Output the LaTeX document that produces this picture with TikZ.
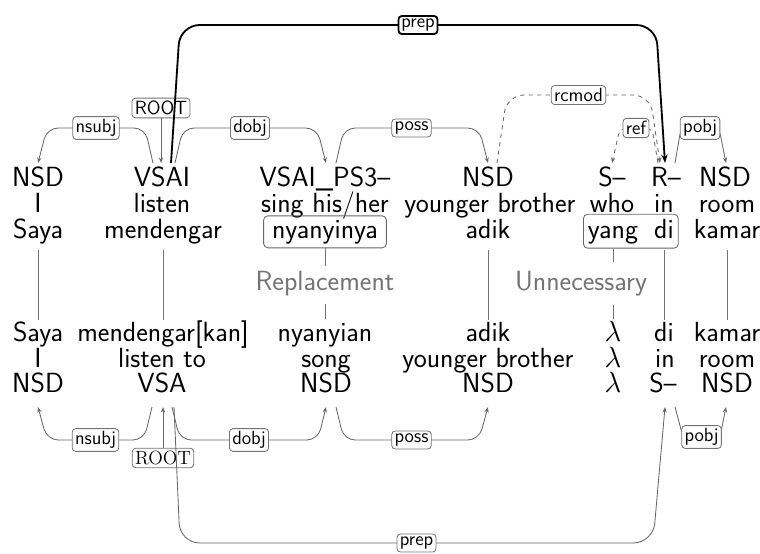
\documentclass[tikz,border=0pt]{standalone}
\usepackage{tikz}
\usetikzlibrary{positioning}
\usetikzlibrary{arrows.meta}
\usetikzlibrary{calc,fit}
\newcommand{\wordfont}{\sffamily\fontsize{19.7}{23}\selectfont}
\newcommand{\labfont}{\sffamily\fontsize{13.6}{16}\selectfont}
\tikzset{word/.style={anchor=base,inner sep=0pt,font=\wordfont},
  note/.style={word,text=black!55},
  lab/.style={draw=black!55,fill=white,solid,rounded corners=2.5pt,inner sep=2pt,line width=0.6pt,font=\labfont},
  biglab/.style={lab,draw=black,line width=1.3pt},
  dep/.style={draw=black!60,line width=0.6pt,rounded corners=8pt,-{Stealth[length=4pt,width=3pt]}},
  bigdep/.style={draw=black,line width=1.3pt,rounded corners=14pt,-{Stealth[length=6pt,width=4.5pt]}},
  link/.style={draw=black!55,line width=0.6pt},
  wbox/.style={draw=black!60,line width=0.6pt,rounded corners=3pt},}

\begin{document}
\begin{tikzpicture}[x=0.025cm,y=-0.025cm]
    \useasboundingbox (0,0) rectangle (760,553);

    % source sentence
    \node[word] (t1) at (38,186) {NSD};
    \node[word] (t2) at (162,186) {VSAI};
    \node[word] (t3) at (325,186) {VSAI\_PS3\textendash};
    \node[word] (t4) at (488,186) {NSD};
    \node[word] (t5) at (612,186) {S\textendash};
    \node[word] (t6) at (666,186) {R\textendash};
    \node[word] (t7) at (725,186) {NSD};

    \node[word] (e1) at (38,212) {I};
    \node[word] (e2) at (162,212) {listen};
    \node[word] (e3) at (325,212) {sing his/her};
    \node[word] (e4) at (490,212) {younger brother};
    \node[word] (e5) at (612,212) {who};
    \node[word] (e6) at (664,212) {in};
    \node[word] (e7) at (727,212) {room};

    \node[word] (i1) at (38,238) {Saya};
    \node[word] (i2) at (163,238) {mendengar};
    \node[word,wbox,inner xsep=6pt,inner ysep=3pt] (i3) at (325,238) {nyanyinya};
    \node[word] (i4) at (488,238) {adik};
    \node[word] (i5) at (613,238) {yang};
    \node[word] (i6) at (664,238) {di};
    \node[word] (i7) at (727,238) {kamar};
    \node[wbox,inner sep=3pt,fit=(i5)(i6)] (pair) {};

    \node[note] (rep) at (325,290) {Replacement};
    \node[note] (unn) at (581,290) {Unnecessary};

    % target sentence
    \node[word] (bi1) at (38,341) {Saya};
    \node[word] (bi2) at (163,341) {mendengar[kan]};
    \node[word] (bi3) at (325,341) {nyanyian};
    \node[word] (bi4) at (488,341) {adik};
    \node[word] (bi5) at (613,341) {$\lambda$};
    \node[word] (bi6) at (664,341) {di};
    \node[word] (bi7) at (727,341) {kamar};

    \node[word] (be1) at (38,367) {I};
    \node[word] (be2) at (162,367) {listen to};
    \node[word] (be3) at (326,367) {song};
    \node[word] (be4) at (488,367) {younger brother};
    \node[word] (be5) at (613,367) {$\lambda$};
    \node[word] (be6) at (665,367) {in};
    \node[word] (be7) at (727,367) {room};

    \node[word] (bt1) at (38,392) {NSD};
    \node[word] (bt2) at (162,392) {VSA};
    \node[word] (bt3) at (326,392) {NSD};
    \node[word] (bt4) at (488,392) {NSD};
    \node[word] (bt5) at (613,392) {$\lambda$};
    \node[word] (bt6) at (663,392) {S\textendash};
    \node[word] (bt7) at (727,392) {NSD};

    % alignment
    \draw[link] ($(i1.base)+(0,12)$) -- ($(bi1.base)+(0,-21)$);
    \draw[link] ($(i2.base)+(0,12)$) -- ($(bi2.base)+(0,-21)$);
    \draw[link] ($(i4.base)+(0,12)$) -- ($(bi4.base)+(0,-21)$);
    \draw[link] ($(i6.base)+(0,12)$) -- ($(bi6.base)+(0,-21)$);
    \draw[link] ($(i7.base)+(0,12)$) -- ($(bi7.base)+(0,-21)$);
    \draw[link] (i3.south) -- ++(0,18);
    \draw[link] (bi3.base) ++(0,-22) -- ++(0,-15);
    \draw[link] (pair.south -| i5) -- ++(0,13);
    \draw[link] (bi5.base) ++(0,-22) -- ++(0,-14);

    \node[lab] (root) at ($(t2.base)+(-1,-78)$) {ROOT};
    \node[lab,font=\rmfamily\fontsize{13.6}{16}\selectfont] (broot) at ($(bt2.base)+(1,66)$) {ROOT};

    % arcs above
    \draw[dep] (root) -- ($(t2.base)+(-1,-23)$);
    \draw[dep] ($(t2.base)+(-9,-23)$) -- ($(t2.base)+(-17,-58)$)
        -- node[lab] {nsubj} ($(t1.base)+(9,-58)$) -- ($(t1.base)+(0,-23)$);
    \draw[dep] ($(t2.base)+(13,-23)$) -- ($(t2.base)+(21,-58)$)
        -- node[lab] {dobj} ($(t3.base)+(-8,-58)$) -- ($(t3.base)+(1,-23)$);
    \draw[dep] ($(t3.base)+(11,-23)$) -- ($(t3.base)+(19,-58)$)
        -- node[lab] {poss} ($(t4.base)+(-9,-58)$) -- ($(t4.base)+(0,-23)$);
    \draw[dep,dashed,rounded corners=12pt] ($(t4.base)+(9,-23)$) -- ($(t4.base)+(19,-91)$)
        -- node[lab] {rcmod} ($(t6.base)+(-16,-91)$) -- ($(t6.base)+(-6,-23)$);
    \draw[dep,dashed,rounded corners=5pt] ($(t6.base)+(-8,-23)$) -- ($(t6.base)+(-14,-58)$)
        -- node[lab] {ref} ($(t5.base)+(8,-58)$) -- ($(t5.base)+(0,-23)$);
    \draw[dep,rounded corners=5pt] ($(t6.base)+(9,-23)$) -- ($(t6.base)+(15,-58)$)
        -- node[lab] {pobj} ($(t7.base)+(-6,-58)$) -- ($(t7.base)+(1,-23)$);
    \draw[bigdep] ($(t2.base)+(9,-23)$) -- ($(t2.base)+(18,-161)$)
        -- node[biglab] {prep} ($(t6.base)+(-10,-161)$) -- ($(t6.base)+(-1,-23)$);

    % arcs below
    \draw[dep] (broot) -- ($(bt2.base)+(1,15)$);
    \draw[dep] ($(bt2.base)+(-10,15)$) -- ($(bt2.base)+(-18,48)$)
        -- node[lab] {nsubj} ($(bt1.base)+(9,48)$) -- ($(bt1.base)+(0,15)$);
    \draw[dep] ($(bt2.base)+(10,15)$) -- ($(bt2.base)+(18,48)$)
        -- node[lab] {dobj} ($(bt3.base)+(-8,48)$) -- ($(bt3.base)+(0,15)$);
    \draw[dep] ($(bt3.base)+(10,15)$) -- ($(bt3.base)+(18,48)$)
        -- node[lab] {poss} ($(bt4.base)+(-9,48)$) -- ($(bt4.base)+(0,15)$);
    \draw[dep,rounded corners=5pt] ($(bt6.base)+(12,15)$) -- ($(bt6.base)+(20,45)$)
        -- node[lab] {pobj} ($(bt7.base)+(-7,45)$) -- ($(bt7.base)+(-1,15)$);
    \draw[dep,rounded corners=14pt] ($(bt2.base)+(12,15)$) -- ($(bt2.base)+(18,151)$)
        -- node[lab] {prep} ($(bt6.base)+(-10,151)$) -- ($(bt6.base)+(2,15)$);
\end{tikzpicture}
\end{document}
